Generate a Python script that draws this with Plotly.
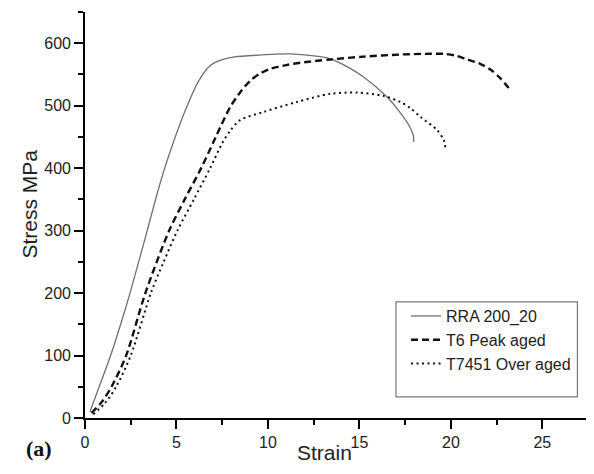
import plotly.graph_objects as go

# ---- data ----
rra_strain = [0.27, 0.8, 1.4, 1.95, 2.5, 3.4, 4.0, 4.5, 5.42, 6.24, 6.88, 7.43, 8.16, 9.5, 11.22, 12.86, 13.41, 14.3, 15.23, 16.51, 17.2, 17.79, 17.95, 17.97]
rra_stress = [10, 52, 100, 150, 204, 300, 365, 413, 488, 541, 565, 573, 578, 581, 583, 578.5, 575, 563, 546, 514, 490, 464, 452, 442]

t6_strain = [0.35, 0.9, 1.45, 2.25, 3.3, 4.6, 5.45, 6.35, 7.15, 7.94, 8.5, 9.03, 9.6, 10.13, 11.0, 11.59, 13.41, 15.23, 17.3, 18.6, 19.6, 20.3, 20.9, 21.6, 22.2, 22.7, 23.25]
t6_stress = [8, 25, 50, 100, 200, 300, 350, 400, 450, 498, 522, 540, 552, 559, 565, 568, 574, 578.5, 582, 583, 583, 580, 574, 567, 557, 544, 525]

t7_strain = [0.45, 1.1, 1.7, 2.5, 3.6, 4.3, 5.05, 5.95, 6.84, 7.5, 7.94, 8.48, 9.76, 11.59, 13.41, 14.87, 16.33, 17.24, 17.79, 18.34, 19.25, 19.61, 19.7]
t7_stress = [6, 24, 50, 100, 200, 250, 300, 350, 400, 440, 460, 477, 490, 506, 519, 521, 515.5, 506, 496, 482, 461, 445, 433]

series_names = ["RRA 200_20", "T6 Peak aged", "T7451 Over aged"]
x_ticks = [0, 5, 10, 15, 20, 25]
y_ticks = [0, 100, 200, 300, 400, 500, 600]
x_title = "Strain"
y_title = "Stress MPa"
panel_label = "(a)"

fig = go.Figure()
fig.add_trace(go.Scatter(x=rra_strain, y=rra_stress, mode="lines", name=series_names[0],
                         line=dict(color="#707070", width=1.3, shape="spline", smoothing=0.8)))
fig.add_trace(go.Scatter(x=t6_strain, y=t6_stress, mode="lines", name=series_names[1],
                         line=dict(color="#111111", width=2.4, dash="7px,4px", shape="spline", smoothing=0.8)))
fig.add_trace(go.Scatter(x=t7_strain, y=t7_stress, mode="lines", name=series_names[2],
                         line=dict(color="#111111", width=2, dash="2px,3.5px", shape="spline", smoothing=0.8)))

axis_common = dict(showgrid=False, zeroline=False, showline=True, linecolor="black", linewidth=1.6,
                   ticks="outside", ticklen=9, tickwidth=1.5, tickcolor="black",
                   tickfont=dict(family="Liberation Sans, Arial", size=16, color="#222"))

fig.update_xaxes(range=[0, 27.55], tickvals=x_ticks,
                 minor=dict(dtick=2.5, tick0=0, ticks="outside", ticklen=5, tickcolor="black", tickwidth=1.5),
                 **axis_common)
fig.update_yaxes(range=[0, 650], tickvals=y_ticks,
                 minor=dict(dtick=50, tick0=0, ticks="outside", ticklen=5, tickcolor="black", tickwidth=1.5),
                 **axis_common)

title_font = dict(family="Liberation Sans, Arial", size=21, color="#222")

fig.update_layout(
    width=586, height=466,
    margin=dict(l=77, r=5.3, t=4, b=56.3, autoexpand=False),
    plot_bgcolor="white", paper_bgcolor="white",
    showlegend=True,
    legend=dict(x=0.637, y=0.293, xanchor="left", yanchor="top",
                bgcolor="rgba(0,0,0,0)", borderwidth=0,
                font=dict(family="Liberation Sans, Arial", size=16, color="#222"),
                itemwidth=30, tracegroupgap=0),
    shapes=[dict(type="rect", xref="paper", yref="paper", x0=0.617, x1=0.977, y0=0.052, y1=0.286,
                 line=dict(color="#777", width=1.2), fillcolor="rgba(0,0,0,0)")],
    annotations=[
        dict(text=x_title, xref="paper", yref="paper", x=0.476, y=-0.085,
             xanchor="center", yanchor="middle", showarrow=False, font=title_font),
        dict(text=y_title, xref="paper", yref="paper", x=-0.112, y=0.527, textangle=-90,
             xanchor="center", yanchor="middle", showarrow=False, font=title_font),
        dict(text="<b>" + panel_label + "</b>", xref="paper", yref="paper", x=-0.121, y=-0.074,
             xanchor="left", yanchor="middle", showarrow=False,
             font=dict(family="Liberation Serif, Times New Roman", size=22, color="#111")),
    ],
)

fig.write_html("out.html")
